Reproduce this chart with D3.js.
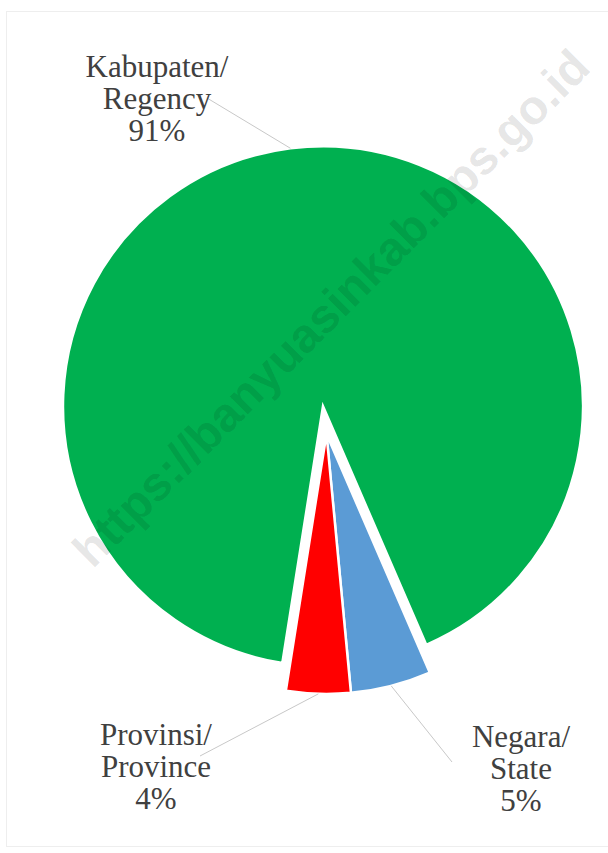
<!DOCTYPE html>
<html>
<head>
<meta charset="utf-8">
<script src="https://cdn.jsdelivr.net/npm/d3@7/dist/d3.min.js"></script>
<style>
  html, body { margin: 0; padding: 0; background: #ffffff; }
  svg { display: block; }
</style>
</head>
<body>
<script>
// ---- data ----
const categories = ["Kabupaten/Regency", "Negara/State", "Provinsi/Province"];
const labelLines = [["Kabupaten/", "Regency"], ["Negara/", "State"], ["Provinsi/", "Province"]];
const values = [91, 5, 4];
const colors = ["#00B050", "#5B9BD5", "#FF0000"];
const watermarkText = "https://banyuasinkab.bps.go.id";

// ---- layout ----
const W = 608, H = 853;
const cx = 326.5, cy = 434, R = 260;
const startAngle = 189 * Math.PI / 180;
const explode = [28, 0, 0];
const labelPos = [
  { x: 157, y: 77, lx: 207, ly: 98 },
  { x: 521, y: 747, lx: 452, ly: 762 },
  { x: 156, y: 745, lx: 200, ly: 756 }
];
const lineGap = 32;

const svg = d3.select("body").append("svg").attr("width", W).attr("height", H);

// faint frame
svg.append("rect").attr("x", 6.5).attr("y", 11.5).attr("width", W + 10).attr("height", 835)
  .attr("fill", "none").attr("stroke", "#eeeeee").attr("stroke-width", 1);

const pie = d3.pie().sort(null).value(d => d)
  .startAngle(startAngle).endAngle(startAngle + 2 * Math.PI);
const arcs = pie(values);
const arc = d3.arc().innerRadius(0).outerRadius(R);

const g = svg.append("g").attr("transform", `translate(${cx},${cy})`);

function offset(d, i) {
  const m = (d.startAngle + d.endAngle) / 2;
  return [explode[i] * Math.sin(m), -explode[i] * Math.cos(m)];
}

g.selectAll("path.slice").data(arcs).enter().append("path")
  .attr("class", "slice")
  .attr("d", arc)
  .attr("transform", (d, i) => { const o = offset(d, i); return `translate(${o[0]},${o[1]})`; })
  .attr("fill", (d, i) => colors[i])
  .attr("stroke", "#ffffff")
  .attr("stroke-width", 2.5)
  .attr("stroke-linejoin", "miter");

// leader lines
g.selectAll("line.leader").data(arcs).enter().append("line")
  .attr("class", "leader")
  .attr("x1", (d, i) => labelPos[i].lx - cx)
  .attr("y1", (d, i) => labelPos[i].ly - cy)
  .attr("x2", (d, i) => { const m = (d.startAngle + d.endAngle) / 2; const o = offset(d, i); return o[0] + R * Math.sin(m); })
  .attr("y2", (d, i) => { const m = (d.startAngle + d.endAngle) / 2; const o = offset(d, i); return o[1] - R * Math.cos(m); })
  .attr("stroke", "#c8c8c8")
  .attr("stroke-width", 1);

// labels
const total = d3.sum(values);
const lbl = svg.selectAll("text.lbl").data(arcs).enter().append("text")
  .attr("class", "lbl")
  .attr("text-anchor", "middle")
  .attr("font-family", "'Liberation Serif', 'DejaVu Serif', serif")
  .attr("font-size", 31)
  .attr("fill", "#404040");
lbl.each(function(d, i) {
  const t = d3.select(this);
  const lines = labelLines[i].concat([Math.round(values[i] / total * 100) + "%"]);
  lines.forEach((s, k) => {
    t.append("tspan").attr("x", labelPos[i].x).attr("y", labelPos[i].y + k * lineGap).text(s);
  });
});

// watermark
svg.append("text")
  .attr("transform", "translate(331,308) rotate(-45)")
  .attr("text-anchor", "middle")
  .attr("dominant-baseline", "central")
  .attr("font-family", "'Liberation Sans', Arial, sans-serif")
  .attr("font-weight", "bold")
  .attr("font-size", 48)
  .attr("fill", "#000000")
  .attr("fill-opacity", 0.11)
  .text(watermarkText);
</script>
</body>
</html>
